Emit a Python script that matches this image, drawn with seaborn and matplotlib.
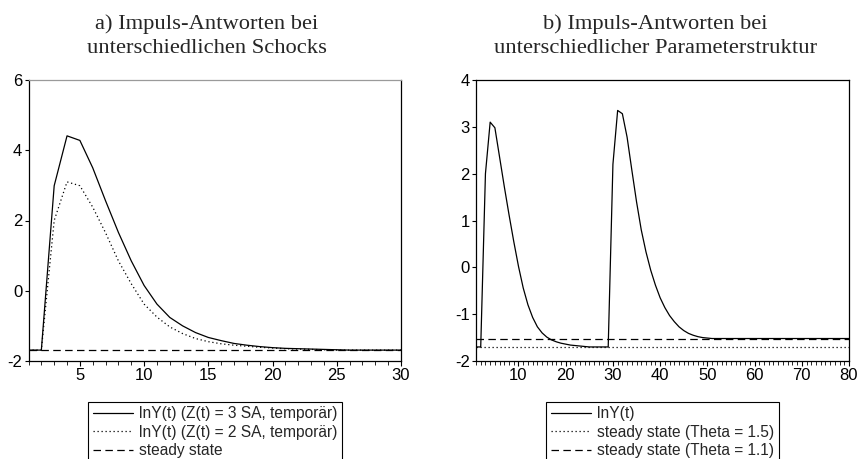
import matplotlib
matplotlib.use("Agg")
import matplotlib.pyplot as plt
import seaborn as sns
from matplotlib.ticker import MultipleLocator

# ---------------- data ----------------
t_a = list(range(1, 31))
lny_3sa = [-1.69, -1.69, 2.99, 4.41, 4.28, 3.50, 2.56, 1.66, 0.85, 0.15,
           -0.38, -0.76, -1.00, -1.19, -1.33, -1.42, -1.50, -1.55, -1.59, -1.62,
           -1.64, -1.65, -1.66, -1.67, -1.68, -1.69, -1.69, -1.69, -1.69, -1.69]
lny_2sa = [-1.69, -1.69, 2.00, 3.10, 2.99, 2.38, 1.65, 0.85, 0.20, -0.38,
           -0.75, -1.03, -1.22, -1.36, -1.45, -1.51, -1.55, -1.58, -1.61, -1.63,
           -1.65, -1.66, -1.67, -1.68, -1.69, -1.69, -1.69, -1.69, -1.69, -1.69]
ss_a = -1.69

t_b = list(range(1, 81))
lny_b = [-1.70, -1.70, 2.00, 3.10, 2.98, 2.35, 1.72, 1.12, 0.55, 0.02,
         -0.44, -0.80, -1.07, -1.27, -1.40, -1.49, -1.55, -1.59, -1.62, -1.64,
         -1.66, -1.67, -1.68, -1.69, -1.70, -1.70, -1.70, -1.70, -1.70, 2.20,
         3.35, 3.28, 2.78, 2.08, 1.40, 0.80, 0.33, -0.06, -0.38, -0.65,
         -0.86, -1.03, -1.16, -1.27, -1.35, -1.41, -1.45, -1.48, -1.50, -1.51,
         -1.52, -1.52, -1.52, -1.52, -1.52, -1.52, -1.52, -1.52, -1.52, -1.52,
         -1.52, -1.52, -1.52, -1.52, -1.52, -1.52, -1.52, -1.52, -1.52, -1.52,
         -1.52, -1.52, -1.52, -1.52, -1.52, -1.52, -1.52, -1.52, -1.52, -1.52]
ss_theta15 = -1.70
ss_theta11 = -1.53

title_a = ["a) Impuls-Antworten bei", "unterschiedlichen Schocks"]
title_b = ["b) Impuls-Antworten bei", "unterschiedlicher Parameterstruktur"]
labels_a = ["lnY(t) (Z(t) = 3 SA, temporär)", "lnY(t) (Z(t) = 2 SA, temporär)", "steady state"]
labels_b = ["lnY(t)", "steady state (Theta = 1.5)", "steady state (Theta = 1.1)"]

# ---------------- style ----------------
sns.set_style("white")
plt.rcParams["font.family"] = ["Liberation Sans", "DejaVu Sans"]
plt.rcParams["axes.linewidth"] = 0.9
plt.rcParams["axes.unicode_minus"] = False

fig = plt.figure(figsize=(8.59, 4.59), dpi=100)
ax_a = fig.add_axes([28.5 / 859, 1 - 361 / 459, 372.5 / 859, 281 / 459])
ax_b = fig.add_axes([476 / 859, 1 - 361 / 459, 373 / 859, 281 / 459])

LW = 0.9
DOT = (0, (1.0, 2.2))
DASH = (0, (6.0, 3.5))

sns.lineplot(x=t_a, y=lny_3sa, ax=ax_a, color="black", linewidth=LW, label=labels_a[0])
sns.lineplot(x=t_a, y=lny_2sa, ax=ax_a, color="black", linewidth=LW, linestyle=DOT, label=labels_a[1])
sns.lineplot(x=t_a, y=[ss_a] * len(t_a), ax=ax_a, color="black", linewidth=LW, linestyle=DASH, label=labels_a[2])

sns.lineplot(x=t_b, y=lny_b, ax=ax_b, color="black", linewidth=LW, label=labels_b[0])
sns.lineplot(x=t_b, y=[ss_theta15] * len(t_b), ax=ax_b, color="black", linewidth=LW, linestyle=DOT, label=labels_b[1])
sns.lineplot(x=t_b, y=[ss_theta11] * len(t_b), ax=ax_b, color="black", linewidth=LW, linestyle=DASH, label=labels_b[2])

ax_a.set_xlim(1, 30)
ax_a.set_ylim(-2, 6)
ax_a.xaxis.set_major_locator(MultipleLocator(5))
ax_a.xaxis.set_minor_locator(MultipleLocator(1))
ax_a.yaxis.set_major_locator(MultipleLocator(2))

ax_b.set_xlim(1, 80)
ax_b.set_ylim(-2, 4)
ax_b.xaxis.set_major_locator(MultipleLocator(10))
ax_b.xaxis.set_minor_locator(MultipleLocator(1))
ax_b.yaxis.set_major_locator(MultipleLocator(1))

for ax in (ax_a, ax_b):
    ax.set_xlabel("")
    ax.set_ylabel("")
    for s in ax.spines.values():
        s.set_color("black")
        s.set_linewidth(0.9)
    ax.tick_params(axis="x", which="major", direction="out", length=3.5, width=0.8,
                   bottom=True, top=False, labelsize=12, pad=1.5, colors="black")
    ax.tick_params(axis="x", which="minor", direction="out", length=3.0, width=0.7,
                   bottom=True, top=False)
    ax.tick_params(axis="y", which="major", direction="out", length=3.0, width=0.8,
                   left=True, right=False, labelsize=12, pad=1.5, colors="black")
    ax.grid(False)
    if ax.get_legend() is not None:
        ax.get_legend().remove()

ax_a.spines["top"].set_color("#9a9a9a")

# titles
for cx, lines in ((207 / 859, title_a), (655.5 / 859, title_b)):
    fig.text(cx, 1 - 29 / 459, lines[0], ha="center", va="baseline",
             family=["Liberation Serif", "DejaVu Serif"], fontsize=16.2)
    fig.text(cx, 1 - 52.7 / 459, lines[1], ha="center", va="baseline",
             family=["Liberation Serif", "DejaVu Serif"], fontsize=16.2)

# legends
leg_kw = dict(loc="upper center", bbox_transform=fig.transFigure, frameon=True,
              fancybox=False, edgecolor="black", framealpha=1.0, fontsize=11.2,
              handlelength=2.6, handletextpad=0.35, labelspacing=0.22,
              borderpad=0.3, borderaxespad=0.0)
h, l = ax_a.get_legend_handles_labels()
lg = ax_a.legend(h, l, bbox_to_anchor=(215 / 859, 1 - 401.7 / 459), **leg_kw)
lg.get_frame().set_linewidth(0.8)
h, l = ax_b.get_legend_handles_labels()
lg = ax_b.legend(h, l, bbox_to_anchor=(662.5 / 859, 1 - 401.7 / 459), **leg_kw)
lg.get_frame().set_linewidth(0.8)

fig.savefig("out.png", dpi=100)
